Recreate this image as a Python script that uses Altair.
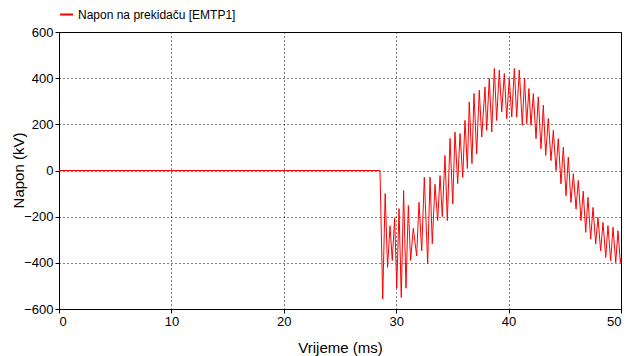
import altair as alt
import pandas as pd

series_name = "Napon na prekidaču [EMTP1]"

# time (ms) of each read-off point (flat part, then successive peaks/troughs)
time_ms = [
    0.00, 28.56,
    28.80, 29.02, 29.23, 29.45, 29.65, 29.86, 30.05, 30.25, 30.45, 30.66,
    30.87, 31.08, 31.28, 31.52, 31.82, 32.03, 32.27, 32.50, 32.80, 33.01,
    33.21, 33.45, 33.69, 33.90, 34.10, 34.34, 34.55, 34.79, 35.03, 35.23,
    35.47, 35.68, 35.92, 36.12, 36.33, 36.50, 36.74, 36.92, 37.16, 37.39,
    37.61, 37.90, 38.05, 38.28, 38.50, 38.73, 38.94, 39.17, 39.39, 39.62,
    39.83, 40.06, 40.28, 40.51, 40.72, 40.95, 41.22, 41.42, 41.61, 41.81,
    41.99, 42.20, 42.44, 42.64, 42.88, 43.09, 43.30, 43.53, 43.77, 43.98,
    44.22, 44.42, 44.66, 44.87, 45.11, 45.31, 45.55, 45.76, 46.00, 46.20,
    46.44, 46.64, 46.86, 47.06, 47.30, 47.51, 47.75, 47.95, 48.19, 48.40,
    48.64, 48.84, 49.08, 49.29, 49.53, 49.73, 49.94, 50.00,
]

# voltage (kV) at those points
voltage_kv = [
    0, 0,
    -557, -100, -420, -240, -390, -205, -510, -165, -550, -87,
    -510, -152, -390, -250, -370, -138, -348, -29, -403, -29,
    -317, -60, -217, -22, -200, 65, -217, 139, -145, 167,
    -57, 160, -30, 217, 9, 297, 30, 334, 72, 348,
    145, 362, 174, 399, 167, 442, 217, 435, 254, 420,
    225, 399, 232, 442, 232, 435, 196, 400, 203, 355,
    196, 333, 138, 319, 94, 283, 65, 225, 43, 174,
    0, 138, -58, 101, -109, 58, -138, -14, -167, -43,
    -217, -90, -268, -116, -297, -160, -319, -203, -348, -225,
    -377, -239, -391, -246, -399, -261, -399, -380,
]

x_ticks = [0, 10, 20, 30, 40, 50]
y_ticks = [-600, -400, -200, 0, 200, 400, 600]

df = pd.DataFrame({
    "t": time_ms,
    "v": voltage_kv,
    "s": [series_name] * len(time_ms),
    "i": list(range(len(time_ms))),
})

font = "Liberation Sans"

chart = (
    alt.Chart(df)
    .mark_line(strokeWidth=1, interpolate="linear")
    .encode(
        x=alt.X(
            "t:Q",
            scale=alt.Scale(domain=[0, 50], nice=False, zero=False),
            axis=alt.Axis(
                values=x_ticks, title="Vrijeme (ms)", format="d",
                titleX=281, titleY=38, titleBaseline="middle",
                labelPadding=2,
            ),
        ),
        y=alt.Y(
            "v:Q",
            scale=alt.Scale(domain=[-600, 600], nice=False),
            axis=alt.Axis(
                values=y_ticks, title="Napon (kV)", format="d",
                titleX=-41, titleY=138, titleBaseline="middle", titleAngle=270,
                labelPadding=2,
            ),
        ),
        color=alt.Color(
            "s:N",
            scale=alt.Scale(range=["#ff0000"]),
            legend=alt.Legend(
                title=None, orient="none", legendX=0, legendY=-25,
                symbolType="stroke", symbolSize=169, symbolStrokeWidth=2,
                labelFont=font, labelFontSize=12, labelColor="black",
                labelOffset=4, padding=0,
            ),
        ),
        order="i:Q",
    )
    .properties(
        width=562,
        height=277,
        autosize=alt.AutoSizeParams(type="none"),
        padding={"left": 59, "top": 32, "right": 6, "bottom": 47},
        background="white",
    )
    .configure_view(stroke="black", strokeWidth=1)
    .configure_axis(
        domainColor="black",
        tickColor="black",
        tickSize=4,
        gridColor="black",
        gridDash=[1, 3],
        gridOpacity=1,
        labelFont=font,
        titleFont=font,
        labelColor="black",
        titleColor="black",
        labelFontSize=13,
        titleFontSize=15,
        titleFontWeight="normal",
    )
)

chart.save("out.html", embed_options={"renderer": "svg", "actions": False})
